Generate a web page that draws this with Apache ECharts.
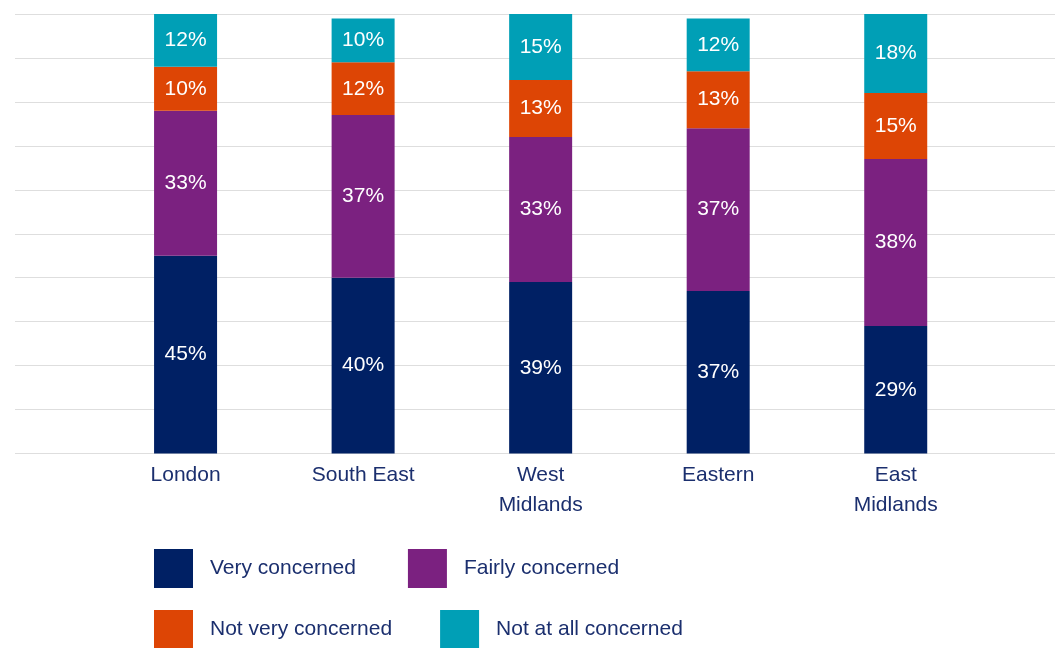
<!DOCTYPE html>
<html>
<head>
<meta charset="utf-8">
<title>Level of concern by region</title>
<script src="https://cdn.jsdelivr.net/npm/echarts@6/dist/echarts.min.js"></script>
<style>
  html, body { margin: 0; padding: 0; background: #ffffff; }
  #chart { width: 1055px; height: 648px; }
</style>
</head>
<body>
<div id="chart"></div>
<script>
// Regions shown along the bottom axis
const regions = ['London', 'South East', 'West\nMidlands', 'Eastern', 'East\nMidlands'];

// Share of respondents (%) per level of concern
const veryConcerned     = [45, 40, 39, 37, 29];
const fairlyConcerned   = [33, 37, 33, 37, 38];
const notVeryConcerned  = [10, 12, 13, 13, 15];
const notAtAllConcerned = [12, 10, 15, 12, 18];

const seriesNames  = ['Very concerned', 'Fairly concerned', 'Not very concerned', 'Not at all concerned'];
const seriesValues = [veryConcerned, fairlyConcerned, notVeryConcerned, notAtAllConcerned];
const seriesColors = ['#002064', '#7B2180', '#DD4505', '#009FB6'];

const textColor = '#1B2F6E';
const fontFamily = 'Liberation Sans, Arial, Helvetica, sans-serif';

const chart = echarts.init(document.getElementById('chart'));

const series = seriesNames.map((name, s) => ({
  name: name,
  type: 'bar',
  stack: 'share',
  xAxisIndex: 1,
  yAxisIndex: 1,
  barWidth: 63,
  itemStyle: { color: seriesColors[s] },
  label: {
    show: true,
    position: 'inside',
    color: '#ffffff',
    fontSize: 21,
    fontFamily: fontFamily,
    formatter: p => p.value + '%'
  },
  emphasis: { disabled: true },
  data: seriesValues[s]
}));

const legendText = {
  color: textColor,
  fontSize: 21,
  fontFamily: fontFamily,
  padding: [4, 0, 0, 12]
};

const plotTop = 14;
const plotBottom = 194.5;

chart.setOption({
  animation: false,
  backgroundColor: '#ffffff',
  textStyle: { fontFamily: fontFamily },
  grid: [
    // full-width grid carrying the horizontal gridlines
    { left: 15, right: 0, top: plotTop, bottom: plotBottom, containLabel: false },
    // narrower grid holding the region bars
    { left: 96.8, right: 70.5, top: plotTop, bottom: plotBottom, containLabel: false }
  ],
  xAxis: [
    {
      gridIndex: 0,
      type: 'value',
      min: 0,
      max: 1,
      show: false
    },
    {
      gridIndex: 1,
      type: 'category',
      data: regions,
      axisLine: { show: false },
      axisTick: { show: false },
      splitLine: { show: false },
      axisLabel: {
        color: textColor,
        fontSize: 21,
        lineHeight: 30,
        margin: 7,
        fontFamily: fontFamily
      }
    }
  ],
  yAxis: [
    {
      gridIndex: 0,
      type: 'value',
      min: 0,
      max: 100,
      interval: 10,
      axisLine: { show: false },
      axisTick: { show: false },
      axisLabel: { show: false },
      splitLine: { show: true, lineStyle: { color: '#DEDEDE', width: 1 } }
    },
    {
      gridIndex: 1,
      type: 'value',
      min: 0,
      max: 100,
      interval: 10,
      axisLine: { show: false },
      axisTick: { show: false },
      axisLabel: { show: false },
      splitLine: { show: false }
    }
  ],
  legend: [
    {
      data: seriesNames.slice(0, 2),
      left: 154,
      top: 549,
      padding: 0,
      icon: 'rect',
      itemWidth: 39,
      itemHeight: 39,
      itemGap: 52,
      selectedMode: false,
      textStyle: legendText
    },
    {
      data: seriesNames.slice(2, 4),
      left: 154,
      top: 610,
      padding: 0,
      icon: 'rect',
      itemWidth: 39,
      itemHeight: 39,
      itemGap: 48,
      selectedMode: false,
      textStyle: legendText
    }
  ],
  series: series
});
</script>
</body>
</html>
